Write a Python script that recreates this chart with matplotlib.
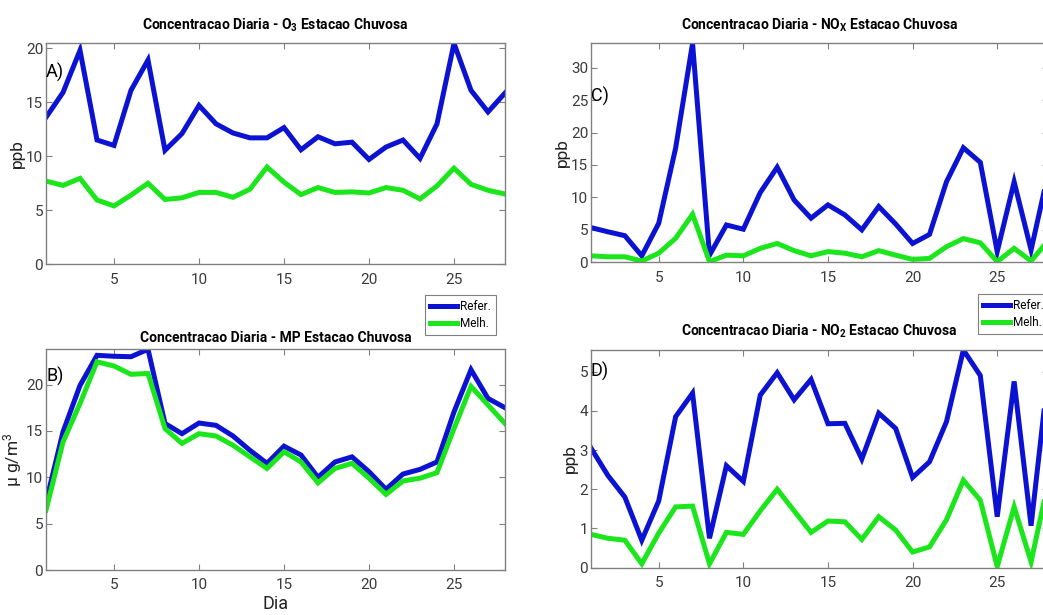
import matplotlib
matplotlib.use("Agg")
from matplotlib import pyplot as plt
from matplotlib.lines import Line2D

plt.rcParams['font.family'] = ['Roboto', 'DejaVu Sans']
plt.rcParams['font.stretch'] = 'condensed'
plt.rcParams['mathtext.default'] = 'regular'

# Dias do mes (estacao chuvosa)
dias = list(range(1, 29))

# A) O3 (ppb)
o3_refer = [13.6, 15.9, 19.8, 11.5, 11.0, 16.1, 18.9, 10.55, 12.1, 14.7, 13.0, 12.15, 11.7, 11.7,
            12.65, 10.6, 11.8, 11.15, 11.3, 9.7, 10.85, 11.5, 9.8, 13.0, 20.45, 16.1, 14.1, 15.85]
o3_melh = [7.7, 7.3, 7.95, 5.95, 5.4, 6.4, 7.5, 6.0, 6.15, 6.65, 6.65, 6.2, 6.95, 9.0,
           7.6, 6.45, 7.1, 6.65, 6.7, 6.6, 7.1, 6.85, 6.05, 7.25, 8.9, 7.4, 6.85, 6.5]

# B) MP (ug/m3)
mp_refer = [7.3, 14.9, 19.9, 23.15, 23.05, 23.0, 23.8, 15.8, 14.7, 15.85, 15.6, 14.45, 12.9, 11.5,
            13.35, 12.4, 10.0, 11.65, 12.2, 10.6, 8.7, 10.35, 10.85, 11.65, 17.05, 21.6, 18.5, 17.5]
mp_melh = [6.45, 13.8, 17.95, 22.45, 22.0, 21.1, 21.2, 15.25, 13.65, 14.7, 14.45, 13.45, 12.2, 10.95,
           12.75, 11.65, 9.4, 10.95, 11.5, 9.9, 8.15, 9.6, 9.9, 10.5, 15.25, 19.8, 17.8, 15.8]

# C) NOx (ppb)
nox_refer = [5.35, 4.7, 4.1, 1.0, 6.0, 17.6, 33.75, 1.1, 5.75, 5.1, 10.75, 14.65, 9.6, 6.8,
             8.85, 7.3, 5.0, 8.6, 5.9, 2.9, 4.3, 12.4, 17.65, 15.4, 1.65, 12.4, 1.9, 13.6]
nox_melh = [1.0, 0.85, 0.85, 0.2, 1.4, 3.7, 7.4, 0.1, 1.1, 1.0, 2.15, 2.9, 1.8, 1.0,
            1.65, 1.4, 0.85, 1.8, 1.1, 0.45, 0.6, 2.4, 3.65, 3.0, 0.1, 2.15, 0.2, 3.3]

# D) NO2 (ppb)
no2_refer = [3.05, 2.35, 1.8, 0.7, 1.7, 3.85, 4.45, 0.75, 2.6, 2.2, 4.4, 4.97, 4.28, 4.8,
             3.67, 3.68, 2.77, 3.94, 3.55, 2.3, 2.7, 3.72, 5.55, 4.9, 1.3, 4.75, 1.07, 4.9]
no2_melh = [0.85, 0.75, 0.7, 0.1, 0.88, 1.55, 1.57, 0.1, 0.9, 0.85, 1.45, 2.0, 1.45, 0.9,
            1.19, 1.17, 0.72, 1.3, 0.96, 0.4, 0.53, 1.22, 2.23, 1.72, 0.03, 1.55, 0.15, 2.15]

titulos = ['Concentracao Diaria - O$_3$ Estacao Chuvosa',
           'Concentracao Diaria - MP Estacao Chuvosa',
           'Concentracao Diaria - NO$_X$ Estacao Chuvosa',
           'Concentracao Diaria - NO$_2$ Estacao Chuvosa']
rotulos = ['A)', 'B)', 'C)', 'D)']
unidades = ['ppb', 'μ g/m$^3$', 'ppb', 'ppb']
yticks = [[0, 5, 10, 15, 20], [0, 5, 10, 15, 20], [0, 5, 10, 15, 20, 25, 30], [0, 1, 2, 3, 4, 5]]
series = [(o3_refer, o3_melh), (mp_refer, mp_melh), (nox_refer, nox_melh), (no2_refer, no2_melh)]

AZUL = '#0c12d2'
VERDE = '#1be61b'
CINZA = '#808080'

W, H = 1043, 615
fig = plt.figure(figsize=(W / 100, H / 100), dpi=100)

# posicoes em pixels: (esquerda, topo, largura, altura)
caixas = [(46, 43.3, 459, 221), (46, 349.3, 459, 220.7), (591, 43.3, 457, 219), (591, 350, 457, 217.7)]
pos_rotulo = [0.87, 0.876, 0.756, 0.90]
# distancia (px) da linha de base do titulo ate o topo do eixo
base_titulo = [14, 7, 13.5, 14]

for i in range(4):
    x0, top, w, h = caixas[i]
    ax = fig.add_axes([x0 / W, 1 - (top + h) / H, w / W, h / H])
    refer, melh = series[i]
    ax.plot(dias, refer, color=AZUL, lw=3.6, solid_joinstyle='miter')
    ax.plot(dias, melh, color=VERDE, lw=3.6, solid_joinstyle='miter')
    ax.set_xlim(1, 28)
    ax.set_ylim(0, max(refer))
    ax.set_xticks([5, 10, 15, 20, 25])
    ax.set_yticks(yticks[i])
    ax.tick_params(direction='in', top=True, right=True, length=4, width=0.8,
                   color=CINZA, labelcolor='#3a3a3a', labelsize=11)
    ax.tick_params(axis='x', pad=6)
    ax.tick_params(axis='y', pad=2)
    for s in ax.spines.values():
        s.set_color(CINZA)
        s.set_linewidth(1.0)
    ax.set_ylabel(unidades[i], fontsize=12.5, color='#222222', labelpad=1)
    ax.text(0.5, 1 + base_titulo[i] / h, titulos[i], transform=ax.transAxes,
            ha='center', va='baseline', fontsize=10, fontweight='bold')
    ax.text(0.0, pos_rotulo[i], rotulos[i], transform=ax.transAxes,
            ha='left', va='center', fontsize=13)
    if i == 1:
        ax.set_xlabel('Dia', fontsize=13, color='#222222', labelpad=2)

handles = [Line2D([], [], color=AZUL, lw=3.6), Line2D([], [], color=VERDE, lw=3.6)]
for lx, ly in [(425, 295), (978, 294)]:
    leg = fig.legend(handles, ['Refer.', 'Melh.'], loc='upper left',
                     bbox_to_anchor=(lx / W, 1 - ly / H), borderaxespad=0,
                     fancybox=False, edgecolor=CINZA, framealpha=1, fontsize=8.5,
                     handlelength=2.3, handletextpad=0.3, labelspacing=0.35,
                     borderpad=0.4)
    leg.get_frame().set_linewidth(0.8)

fig.savefig('out.png', dpi=100)
